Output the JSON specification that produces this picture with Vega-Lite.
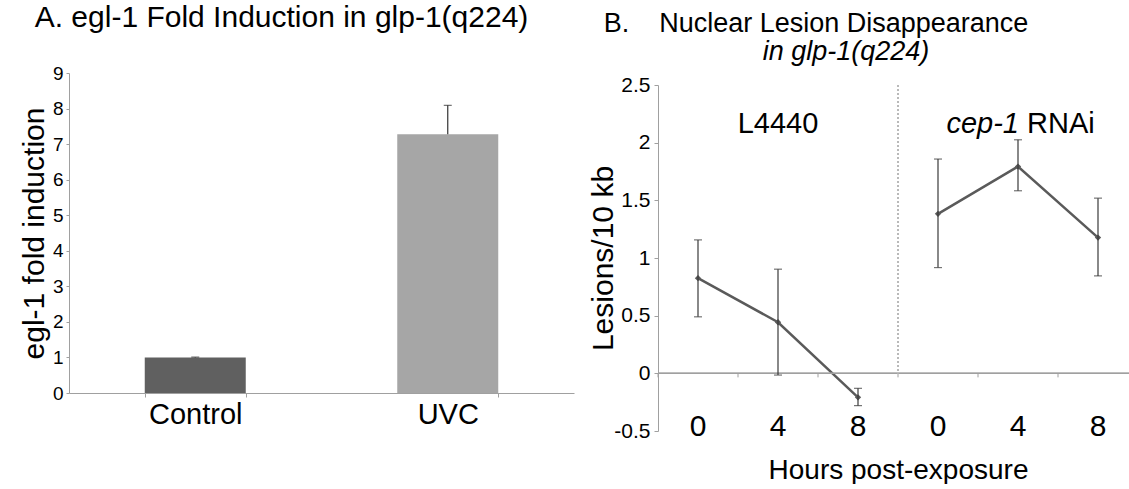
{
  "$schema": "https://vega.github.io/schema/vega-lite/v6.json",
  "padding": {"left": 19, "top": 3, "right": 0, "bottom": 0},
  "spacing": 14,
  "config": {
    "font": "Liberation Sans",
    "view": {"stroke": null},
    "axis": {"labelFont": "Liberation Sans", "titleFont": "Liberation Sans", "labelColor": "#000", "titleColor": "#000", "domainColor": "#a0a0a0", "tickColor": "#a0a0a0", "grid": false, "titleFontWeight": "normal", "labelOverlap": false},
    "title": {"font": "Liberation Sans", "fontWeight": "normal", "color": "#000"}
  },
  "hconcat": [
    {
      "width": 505,
      "height": 320,
      "title": {"text": "A. egl-1 Fold Induction in glp-1(q224)", "fontSize": 30, "anchor": "middle", "dx": -40, "offset": 31},
      "data": {"values": [
        {"treatment": "Control", "fold": 1.0, "err_hi": 1.01},
        {"treatment": "UVC", "fold": 7.28, "err_hi": 8.09}
      ]},
      "encoding": {
        "x": {"field": "treatment", "type": "nominal", "sort": null, "scale": {"paddingInner": 0.6, "paddingOuter": 0.3},
              "axis": {"title": null, "labelAngle": 0, "labelFontSize": 29, "labelPadding": 3, "tickBand": "extent", "tickSize": 4}}
      },
      "layer": [
        {
          "mark": {"type": "bar"},
          "encoding": {
            "y": {"field": "fold", "type": "quantitative", "scale": {"domain": [0, 9], "nice": false},
                  "axis": {"title": "egl-1 fold induction", "titleFontSize": 30, "values": [0,1,2,3,4,5,6,7,8,9], "labelFontSize": 19, "tickSize": 3, "labelPadding": 3, "titlePadding": 3}},
            "color": {"field": "treatment", "type": "nominal", "scale": {"domain": ["Control", "UVC"], "range": ["#606060", "#a6a6a6"]}, "legend": null}
          }
        },
        {
          "mark": {"type": "rule", "color": "#333333", "strokeWidth": 1.2},
          "encoding": {
            "y": {"field": "fold", "type": "quantitative", "scale": {"domain": [0, 9], "nice": false},
                  "axis": {"title": "egl-1 fold induction", "titleFontSize": 30, "values": [0,1,2,3,4,5,6,7,8,9], "labelFontSize": 19, "tickSize": 3, "labelPadding": 3, "titlePadding": 3}},
            "y2": {"field": "err_hi"}
          }
        },
        {
          "mark": {"type": "tick", "color": "#333333", "size": 8, "thickness": 1.2},
          "encoding": {
            "y": {"field": "err_hi", "type": "quantitative", "scale": {"domain": [0, 9], "nice": false},
                  "axis": {"title": "egl-1 fold induction", "titleFontSize": 30, "values": [0,1,2,3,4,5,6,7,8,9], "labelFontSize": 19, "tickSize": 3, "labelPadding": 3, "titlePadding": 3}}
          }
        }
      ]
    },
    {
      "width": 480,
      "height": 358,
      "title": {"text": "B.\u00a0\u00a0\u00a0\u00a0Nuclear Lesion Disappearance", "subtitle": "\u200b\u00a0\u00a0\u00a0\u00a0\u00a0\u00a0\u00a0\u00a0in glp-1(q224)", "fontSize": 27, "subtitleFontSize": 27, "subtitleFontStyle": "italic", "subtitleColor": "#000", "subtitleFont": "Liberation Sans", "subtitlePadding": 1, "anchor": "middle", "dx": -82, "offset": 7},
      "data": {"values": [
        {"group": "L4440", "hour": 0, "sample": "L4440|0", "lesions": 0.825, "lo": 0.49, "hi": 1.157},
        {"group": "L4440", "hour": 4, "sample": "L4440|4", "lesions": 0.443, "lo": -0.015, "hi": 0.903},
        {"group": "L4440", "hour": 8, "sample": "L4440|8", "lesions": -0.208, "lo": -0.28, "hi": -0.13},
        {"group": "cep-1 RNAi", "hour": 0, "sample": "cep-1|0", "lesions": 1.383, "lo": 0.917, "hi": 1.858},
        {"group": "cep-1 RNAi", "hour": 4, "sample": "cep-1|4", "lesions": 1.793, "lo": 1.583, "hi": 2.025},
        {"group": "cep-1 RNAi", "hour": 8, "sample": "cep-1|8", "lesions": 1.177, "lo": 0.845, "hi": 1.519}
      ]},
      "layer": [
        {
          "mark": {"type": "line", "color": "#5a5a5a", "strokeWidth": 2.5, "point": {"shape": "diamond", "size": 40, "filled": true, "color": "#5a5a5a"}},
          "encoding": {
            "x": {"field": "sample", "type": "nominal", "sort": null, "scale": {"paddingInner": 0, "paddingOuter": 0},
                  "axis": {"title": "Hours post-exposure", "titleFontSize": 28, "titlePadding": 15, "labelExpr": "split(datum.value, '|')[1]", "labelAngle": 0, "labelFontSize": 30, "labelBaseline": "alphabetic", "ticks": false, "tickSize": 0, "labelPadding": 4, "domain": false}},
            "y": {"field": "lesions", "type": "quantitative", "scale": {"domain": [-0.5, 2.5], "nice": false, "zero": false, "range": [358, 12]},
                  "axis": {"title": "Lesions/10 kb", "titleFontSize": 30, "values": [-0.5, 0, 0.5, 1, 1.5, 2, 2.5], "labelExpr": "'' + datum.value", "labelFontSize": 21, "tickSize": 4, "labelPadding": 4, "titlePadding": -5}},
            "detail": {"field": "group", "type": "nominal"}
          }
        },
        {
          "mark": {"type": "rule", "color": "#a0a0a0", "strokeWidth": 1},
          "encoding": {"y": {"datum": 0, "type": "quantitative", "scale": {"domain": [-0.5, 2.5], "nice": false, "zero": false}}}
        },
        {
          "mark": {"type": "rule", "color": "#a0a0a0", "strokeWidth": 1},
          "encoding": {
            "x": {"field": "sample", "type": "nominal", "sort": null, "bandPosition": 0},
            "y": {"datum": 0, "type": "quantitative", "scale": {"domain": [-0.5, 2.5], "nice": false, "zero": false}},
            "y2": {"datum": -0.035}
          }
        },
        {
          "mark": {"type": "rule", "color": "#b8b8b8", "strokeWidth": 1, "strokeDash": [2, 2]},
          "encoding": {
            "x": {"datum": "cep-1|0", "type": "nominal", "bandPosition": 0},
            "y": {"datum": 2.5, "type": "quantitative", "scale": {"domain": [-0.5, 2.5], "nice": false, "zero": false}},
            "y2": {"datum": 0}
          }
        },
        {
          "mark": {"type": "rule", "color": "#3a3a3a", "strokeWidth": 1.2},
          "encoding": {
            "x": {"field": "sample", "type": "nominal", "sort": null},
            "y": {"field": "lo", "type": "quantitative", "scale": {"domain": [-0.5, 2.5], "nice": false, "zero": false}},
            "y2": {"field": "hi"}
          }
        },
        {
          "mark": {"type": "tick", "color": "#3a3a3a", "size": 8, "thickness": 1.2},
          "encoding": {
            "x": {"field": "sample", "type": "nominal", "sort": null},
            "y": {"field": "lo", "type": "quantitative", "scale": {"domain": [-0.5, 2.5], "nice": false, "zero": false}}
          }
        },
        {
          "mark": {"type": "tick", "color": "#3a3a3a", "size": 8, "thickness": 1.2},
          "encoding": {
            "x": {"field": "sample", "type": "nominal", "sort": null},
            "y": {"field": "hi", "type": "quantitative", "scale": {"domain": [-0.5, 2.5], "nice": false, "zero": false}}
          }
        },
        {
          "data": {"values": [{"sample": "L4440|4", "y": 2.08, "label": "L4440"}]},
          "mark": {"type": "text", "fontSize": 29, "align": "center", "baseline": "alphabetic", "color": "#000"},
          "encoding": {
            "x": {"field": "sample", "type": "nominal"},
            "y": {"field": "y", "type": "quantitative", "scale": {"domain": [-0.5, 2.5], "nice": false, "zero": false}},
            "text": {"field": "label"}
          }
        },
        {
          "data": {"values": [{"sample": "cep-1|4", "y": 2.08, "label": "cep-1"}]},
          "mark": {"type": "text", "fontSize": 29, "fontStyle": "italic", "align": "right", "baseline": "alphabetic", "color": "#000", "dx": 1},
          "encoding": {
            "x": {"field": "sample", "type": "nominal"},
            "y": {"field": "y", "type": "quantitative", "scale": {"domain": [-0.5, 2.5], "nice": false, "zero": false}},
            "text": {"field": "label"}
          }
        },
        {
          "data": {"values": [{"sample": "cep-1|4", "y": 2.08, "label": "RNAi"}]},
          "mark": {"type": "text", "fontSize": 29, "align": "left", "baseline": "alphabetic", "color": "#000", "dx": 9},
          "encoding": {
            "x": {"field": "sample", "type": "nominal"},
            "y": {"field": "y", "type": "quantitative", "scale": {"domain": [-0.5, 2.5], "nice": false, "zero": false}},
            "text": {"field": "label"}
          }
        }
      ]
    }
  ]
}
